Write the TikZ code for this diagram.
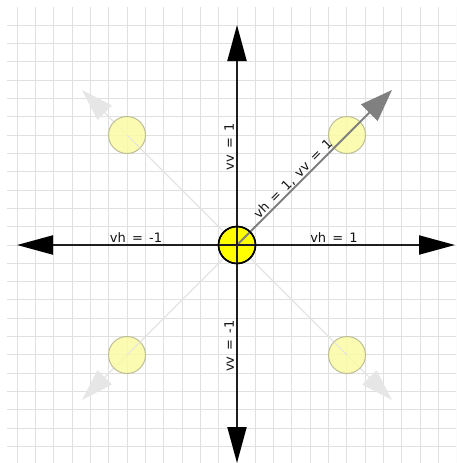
\documentclass[tikz,border=0pt]{standalone}
\usepackage{fontspec}
\setmainfont{DejaVu Sans}[WordSpace=1.5]
\usetikzlibrary{arrows.meta}
\definecolor{gridc}{RGB}{224,224,224}
\definecolor{axisc}{RGB}{30,30,30}
\definecolor{diagc}{RGB}{128,128,128}
\definecolor{fadec}{RGB}{228,228,228}
\definecolor{fadehead}{RGB}{230,230,230}
\definecolor{paley}{RGB}{251,251,165}
\definecolor{paleb}{RGB}{190,190,150}
\definecolor{ctry}{RGB}{255,255,0}
\definecolor{txtc}{RGB}{20,20,20}
\tikzset{
  axisline/.style={draw=axisc, line width=2pt, -{Triangle[length=36pt,width=19pt,color=black,fill=black]}},
  diagline/.style={draw=diagc, line width=2pt, -{Triangle[length=32pt,width=23pt]}},
  fadeline/.style={draw=fadec, line width=1.2pt, -{Triangle[length=32pt,width=20pt,color=fadehead,fill=fadehead]}},
  ghost/.style={circle, minimum size=37pt, inner sep=0pt, fill=paley, draw=paleb, line width=1pt, fill opacity=0.85},
  ctr/.style={circle, minimum size=37pt, inner sep=0pt, fill=ctry, draw=black, line width=1.5pt},
  lab/.style={font=\fontsize{13}{15}\selectfont, text=txtc, inner sep=1pt}
}
\begin{document}
\begin{tikzpicture}[x=1pt,y=-1pt]
\useasboundingbox (0,0) rectangle (456,463);
\fill[white] (0,0) rectangle (456,463);
% grid
\begin{scope}
\clip (7,7) rectangle (456,463);
\foreach \k in {-13,...,13} {
  \draw[gridc, line width=1pt] ({237+\k*18.33},0) -- ({237+\k*18.33},463);
  \draw[gridc, line width=1pt] (0,{245+\k*18.33}) -- (456,{245+\k*18.33});
}
\end{scope}
% positions
\coordinate (o) at (237,245);
\coordinate (tne) at (392,90);
\coordinate (tnw) at (82,90);
\coordinate (tsw) at (82,400);
\coordinate (tse) at (392,400);
\coordinate (tl) at (17,245);
\coordinate (tr) at (455,245);
\coordinate (tt) at (237,25);
\coordinate (tb) at (237,463);
% faded arrows
\draw[fadeline] (o) -- (tnw);
\draw[fadeline] (o) -- (tsw);
\draw[fadeline] (o) -- (tse);
% ghost circles
\node[ghost] (gnw) at (127,135) {};
\node[ghost] (gne) at (347,135) {};
\node[ghost] (gsw) at (127,355) {};
\node[ghost] (gse) at (347,355) {};
\draw[fadec, line width=1pt] (gnw.center) -- (gnw.south east);
\draw[fadec, line width=1pt] (gsw.center) -- (gsw.north east);
\draw[fadec, line width=1pt] (gse.center) -- (gse.north west);
% centre circle
\node[ctr] (c) at (o) {};
% diagonal arrow
\draw[diagline] (o) -- (tne);
% axes
\draw[axisline] (o) -- (tl);
\draw[axisline] (o) -- (tr);
\draw[axisline] (o) -- (tt);
\draw[axisline] (o) -- (tb);
\draw[black, line width=1.5pt] (c) circle (18.5pt);
% labels
\node[lab, anchor=south] (lhm) at (136,244) {vh = -1};
\node[lab, anchor=south] (lhp) at (334,244) {vh = 1};
\node[lab, anchor=south, rotate=90] (lvp) at (235,147) {vv = 1};
\node[lab, anchor=south, rotate=90] (lvm) at (235,346) {vv = -1};
\node[lab, anchor=south, rotate=45] (ldg) at (298,184) {vh = 1, vv = 1};
\end{tikzpicture}
\end{document}
